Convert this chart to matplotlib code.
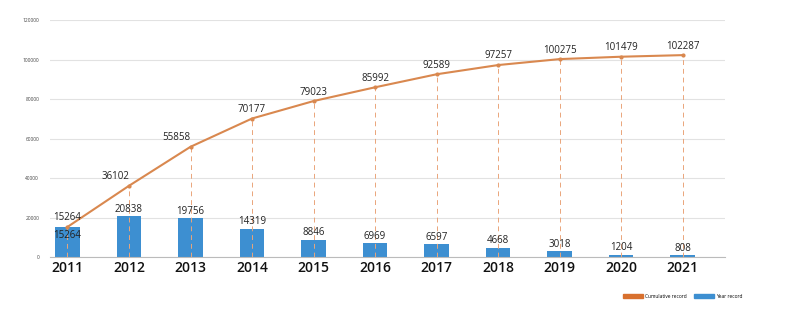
import numpy as np
import matplotlib.pyplot as plt
from matplotlib.patches import Patch

years = ['2011', '2012', '2013', '2014', '2015', '2016', '2017', '2018', '2019', '2020', '2021']
year_record = [15264, 20838, 19756, 14319, 8846, 6969, 6597, 4668, 3018, 1204, 808]
cumulative = [15264, 36102, 55858, 70177, 79023, 85992, 92589, 97257, 100275, 101479, 102287]
yticks = [0, 20000, 40000, 60000, 80000, 100000, 120000]

plt.rcParams['font.family'] = ['Open Sans', 'DejaVu Sans']

c_line = '#d9884f'
c_dash = '#eaa57a'
c_bar = '#3d8fd1'
c_leg = '#d8702e'

fig = plt.figure(figsize=(7.85, 3.25), dpi=100)
ax = fig.add_axes([0.064, 0.209, 0.859, 0.729])
x = np.arange(len(years))

ax.bar(x, year_record, width=0.4, color=c_bar, zorder=2)
ax.plot(x, cumulative, color=c_line, lw=1.5, marker='o', ms=2, zorder=4)
ax.vlines(x, 0, cumulative, colors=c_dash, linestyles=(0, (5, 4)), lw=0.7, zorder=3)

for i in range(len(x)):
    # the steep early points get their labels pushed to the left of the line
    ha = 'right' if i in (1, 2) else 'center'
    ax.text(x[i], cumulative[i] + 1800, str(cumulative[i]), ha=ha, va='bottom',
            fontsize=7, color='#222222', zorder=5)
    if i == 0:
        ax.text(x[i], year_record[i] - 1500, str(year_record[i]), ha='center', va='top',
                fontsize=7, color='#222222', zorder=5)
    else:
        ax.text(x[i], year_record[i] + 700, str(year_record[i]), ha='center', va='bottom',
                fontsize=7, color='#222222', zorder=5)

ax.set_xlim(-0.28, 10.68)
ax.set_ylim(0, 120000)
ax.set_yticks(yticks)
ax.set_yticklabels([str(v) for v in yticks], fontsize=3.5, color='#444444')
ax.set_xticks(x)
ax.set_xticklabels(years, fontsize=10, color='#111111', fontweight='semibold')
ax.tick_params(axis='both', length=0)
ax.tick_params(axis='y', pad=8)
ax.tick_params(axis='x', pad=3)
ax.grid(axis='y', color='#e2e2e2', lw=0.8, zorder=0)
for s in ['top', 'right', 'left']:
    ax.spines[s].set_visible(False)
ax.spines['bottom'].set_color('#bbbbbb')

handles = [Patch(color=c_leg, label='Cumulative record'), Patch(color=c_bar, label='Year record')]
fig.legend(handles=handles, loc='center', bbox_to_anchor=(0.87, 0.088), ncol=2, frameon=False,
           fontsize=3.5, handlelength=4, handleheight=0.8, columnspacing=1.5, handletextpad=0.5)

fig.savefig('out.png', dpi=100, facecolor='white')
